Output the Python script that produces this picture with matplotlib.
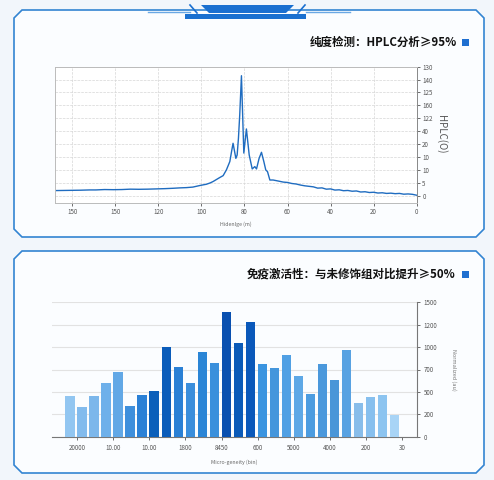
import matplotlib
matplotlib.use("Agg")
import matplotlib.pyplot as plt
from matplotlib.patches import Polygon

plt.rcParams['font.family'] = ['Noto Sans CJK SC', 'DejaVu Sans']

W, H = 494, 480

# --- données HPLC (temps de rétention, signal en unités d'échelle) ---
rt = [0, 2, 4, 6, 8, 10, 12, 14, 16, 18, 20, 22, 24, 26, 28, 30, 32, 34, 36, 38,
      40, 42, 44, 46, 48, 50, 52, 54, 56, 58, 60, 62, 64, 66.7, 68.2, 69.3, 70.1,
      71, 72.1, 73.2, 74.4, 75.2, 76.4, 77.8, 79.1, 80.3, 81.4, 82.2, 82.8, 83.4,
      84.0, 85.3, 86.0, 86.8, 88.4, 89.9, 91.5, 93, 94.6, 96, 97.7, 99, 100.8, 104,
      107, 110, 113, 117, 121, 125, 129, 133, 137, 141, 145, 149, 152, 156, 160,
      164, 168]
signal = [0.03, 0.10, 0.13, 0.11, 0.17, 0.15, 0.19, 0.17, 0.22, 0.20, 0.26, 0.24,
          0.30, 0.28, 0.36, 0.34, 0.40, 0.38, 0.45, 0.43, 0.52, 0.50, 0.60, 0.58,
          0.68, 0.72, 0.76, 0.82, 0.90, 0.94, 1.02, 1.05, 1.12, 1.21, 1.21, 1.86,
          1.99, 2.64, 3.36, 2.89, 2.07, 2.25, 2.07, 3.15, 5.17, 3.30, 9.30, 6.25,
          4.44, 3.15, 2.89, 4.06, 3.41, 2.64, 1.99, 1.55, 1.40, 1.25, 1.09, 0.98,
          0.88, 0.84, 0.78, 0.66, 0.62, 0.60, 0.57, 0.54, 0.52, 0.50, 0.49, 0.50,
          0.47, 0.46, 0.47, 0.44, 0.44, 0.42, 0.41, 0.40, 0.39]
hplc_xticks = [0, 20, 40, 60, 80, 100, 120, 140, 160]
hplc_xlabels = ["0", "20", "40", "60", "80", "100", "120", "150", "150"]
hplc_ylabels = ["0", "5", "10", "10", "20", "40", "122", "160", "125", "140", "130"]

# --- données activité (de gauche à droite) ---
activity = [1.83, 1.31, 1.83, 2.38, 2.90, 1.38, 1.86, 2.04, 4.02, 3.11, 2.38, 3.78,
            3.27, 5.58, 4.17, 5.10, 3.23, 3.05, 3.65, 2.72, 1.89, 3.24, 2.54, 3.87,
            1.50, 1.79, 1.86, 0.97]
bar_colors = ['#92c6f1', '#82bbed', '#7cb7eb', '#6eb0ea', '#62a8e6', '#3e8fdc',
              '#2a80d6', '#0b5fba', '#0a5cba', '#2a80d5', '#3a8edc', '#2a85d6',
              '#3a90dc', '#0950b0', '#0a5ab8', '#0a58ba', '#3a94e0', '#4496dc',
              '#50a0e4', '#5ea8e6', '#4c9ce0', '#4a98dc', '#4a96d8', '#58a2e2',
              '#88bdea', '#86bfee', '#8cc4f0', '#a8d4f6']
act_xlabels = ["20000", "10.00", "10.00", "1800", "8450", "600", "5000", "4000",
               "200", "30"]
act_ylabels = ["0", "200", "500", "700", "1000", "1200", "1500"]


def fx(px):
    return px / W


def fy(py):
    return 1 - py / H


def panel(fig, x0, y0, x1, y1, c=8):
    pts = [(x0 + c, y0), (x1 - c, y0), (x1, y0 + c), (x1, y1 - c),
           (x1 - c, y1), (x0 + c, y1), (x0, y1 - c), (x0, y0 + c)]
    pts = [(fx(a), fy(b)) for a, b in pts]
    fig.add_artist(Polygon(pts, closed=True, transform=fig.transFigure,
                           facecolor='#fbfdff', edgecolor='#3384d2', lw=1.2,
                           zorder=-5))


def poly(fig, pts, color, lw=0, fill=True):
    pts = [(fx(a), fy(b)) for a, b in pts]
    fig.add_artist(Polygon(pts, closed=fill, fill=fill, transform=fig.transFigure,
                           facecolor=color if fill else 'none', edgecolor=color,
                           lw=lw, zorder=-4))


fig = plt.figure(figsize=(W / 100, H / 100), dpi=100, facecolor='#f2f6fb')

# cadres
panel(fig, 14, 10, 484, 237)
panel(fig, 14, 251, 484, 473)

# décor du haut
fig.add_artist(plt.Line2D([fx(148), fx(190)], [fy(11.5), fy(11.5)],
                          transform=fig.transFigure, color='#6aa8e4', lw=1))
fig.add_artist(plt.Line2D([fx(306), fx(350)], [fy(11.5), fy(11.5)],
                          transform=fig.transFigure, color='#6aa8e4', lw=1))
poly(fig, [(201, 5), (294, 5), (286, 13), (209, 13)], '#1a6fd0')
poly(fig, [(185, 14), (306, 14), (306, 18.5), (185, 18.5)], '#1a70d0')
fig.add_artist(plt.Line2D([fx(190), fx(197)], [fy(5), fy(13)],
                          transform=fig.transFigure, color='#1a6fd0', lw=1.2))
fig.add_artist(plt.Line2D([fx(298), fx(305)], [fy(13), fy(5)],
                          transform=fig.transFigure, color='#1a6fd0', lw=1.2))

# titres
fig.text(fx(457), fy(42), "纯度检测：HPLC分析≥95%", ha='right', va='center',
         fontsize=8.3, fontweight='bold', color='#111111')
fig.text(fx(455), fy(274), "免疫激活性：与未修饰组对比提升≥50%", ha='right',
         va='center', fontsize=8.3, fontweight='bold', color='#111111')
for yb in (42, 274):
    poly(fig, [(461.5, yb - 3.5), (468.5, yb - 3.5), (468.5, yb + 3.5),
               (461.5, yb + 3.5)], '#1f6fd0')

# --- graphique HPLC ---
ax1 = fig.add_axes([fx(55), fy(202.7), fx(416.7) - fx(55), (202.7 - 66.7) / H])
ax1.set_facecolor('white')
ax1.plot(rt, signal, color='#1f6cc0', lw=1.0)
ax1.set_xlim(168, 0)
ax1.set_ylim(-0.55, 10)
ax1.set_xticks(hplc_xticks)
ax1.set_xticklabels(hplc_xlabels)
ax1.set_yticks(range(len(hplc_ylabels)))
ax1.set_yticklabels(hplc_ylabels)
ax1.yaxis.tick_right()
ax1.yaxis.set_label_position('right')
ax1.tick_params(labelsize=4.5, colors='#555555', length=2, width=0.6, pad=2)
ax1.grid(True, color='#d6d6d6', lw=0.5, ls='--')
for s in ax1.spines.values():
    s.set_color('#bbbbbb')
    s.set_linewidth(0.7)
ax1.spines['right'].set_color('#888888')
ax1.set_ylabel("HPLC(O)", fontsize=7, color='#555555', rotation=270, labelpad=10)
ax1.set_xlabel("Hidenlge (m)", fontsize=3.8, color='#666666', labelpad=4)

# --- graphique activité ---
ax2 = fig.add_axes([fx(51.7), fy(436.7), fx(416.7) - fx(51.7), (436.7 - 302.3) / H])
ax2.set_facecolor('none')
pos = list(range(len(activity)))
ax2.bar(pos, activity, width=0.78, color=bar_colors, zorder=3)
ax2.set_xlim(-1.52, 28.83)
ax2.set_ylim(0, 6)
ax2.set_xticks([0.6 + 3 * k for k in range(len(act_xlabels))])
ax2.set_xticklabels(act_xlabels)
ax2.set_yticks(range(len(act_ylabels)))
ax2.set_yticklabels(act_ylabels)
ax2.yaxis.tick_right()
ax2.yaxis.set_label_position('right')
ax2.tick_params(labelsize=4.5, colors='#555555', length=2, width=0.6, pad=3)
ax2.grid(True, axis='y', color='#e2e2e2', lw=0.8, zorder=0)
for k in ('top', 'left'):
    ax2.spines[k].set_visible(False)
for k in ('bottom', 'right'):
    ax2.spines[k].set_color('#777777')
    ax2.spines[k].set_linewidth(0.8)
ax2.set_ylabel("Normalized (au)", fontsize=4, color='#777777', rotation=270,
               labelpad=14)
ax2.set_xlabel("Micro-geneity (bin)", fontsize=3.8, color='#666666', labelpad=6)

fig.savefig("out.png", dpi=100, facecolor=fig.get_facecolor())
